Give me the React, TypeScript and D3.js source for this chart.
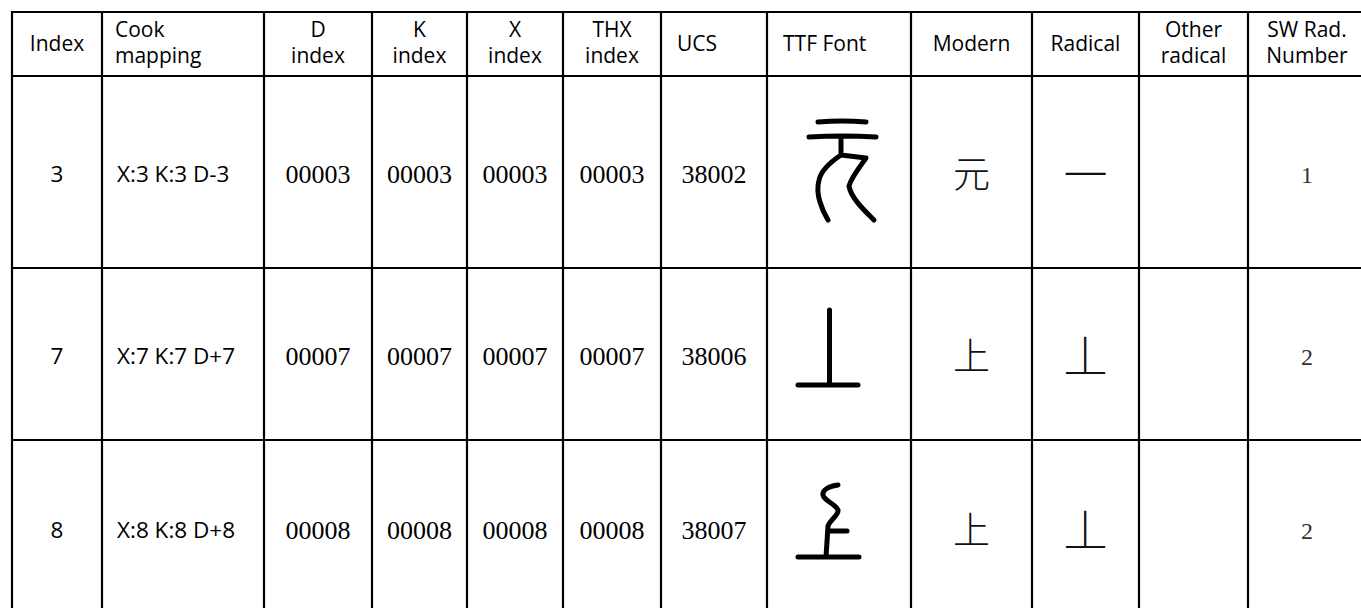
import React from "react";
import * as d3 from "d3";

// table content
const headers = [
  ["Index"],
  ["Cook", "mapping"],
  ["D", "index"],
  ["K", "index"],
  ["X", "index"],
  ["THX", "index"],
  ["UCS"],
  ["TTF Font"],
  ["Modern"],
  ["Radical"],
  ["Other", "radical"],
  ["SW Rad.", "Number"],
];
const indexCol = ["3", "7", "8"];
const cookMapping = ["X:3 K:3 D-3", "X:7 K:7 D+7", "X:8 K:8 D+8"];
const dIndex = ["00003", "00007", "00008"];
const kIndex = ["00003", "00007", "00008"];
const xIndex = ["00003", "00007", "00008"];
const thxIndex = ["00003", "00007", "00008"];
const ucs = ["38002", "38006", "38007"];
const ttfGlyph = ["yuan", "shang", "shangAlt"];
const modern = ["元", "上", "上"];
const radical = ["一", "丄", "丄"];
const otherRadical = ["", "", ""];
const swRadNumber = ["1", "2", "2"];

// layout
const width = 1361;
const height = 608;
const colWidths = [90, 162, 108, 95, 96, 98, 106, 144, 121, 107, 109, 118];
const rowHeights = [64, 192, 172, 176];
const left = 12;
const top = 12;

const colEdges = [left, ...d3.cumsum(colWidths).map((w) => left + w)];
const rowEdges = [top, ...d3.cumsum(rowHeights).map((h) => top + h)];

// seal-script glyph outlines, drawn relative to the cell centre
const sealPaths: Record<string, string> = {
  yuan:
    "M-21,-50 Q3,-52 27,-50 M-30,-35 Q3,-37 37,-35 M2,-32 L2,-17 " +
    "M2,-17 C-10,-9 -18,-1 -20,8 C-22,16 -21,24 -19,30 C-17,37 -14,43 -11,48 " +
    "M2,-17 L27,-14 C20,-4 12,6 10,14 C12,26 25,38 35,48",
  shang: "M-9.5,-44 L-9.5,30 M-41,31 L19,31",
  shangAlt:
    "M-1,-43 C-10,-42 -17,-38 -16,-33 C-15,-27 -3,-24 -1,-18 C0,-13 -9,-8 -11,-2 L-13,29 " +
    "M-11,3 L8,3 M-41,29 L20,29",
};

const sans = "'Open Sans', sans-serif";
const serif = "'Liberation Serif', 'Times New Roman', serif";
const cjk = "'Noto Sans CJK SC', sans-serif";

const columns = [
  { values: indexCol, kind: "sans", align: "middle" },
  { values: cookMapping, kind: "sans", align: "start" },
  { values: dIndex, kind: "serif", align: "middle" },
  { values: kIndex, kind: "serif", align: "middle" },
  { values: xIndex, kind: "serif", align: "middle" },
  { values: thxIndex, kind: "serif", align: "middle" },
  { values: ucs, kind: "serif", align: "middle" },
  { values: ttfGlyph, kind: "seal", align: "middle" },
  { values: modern, kind: "cjk", align: "middle" },
  { values: radical, kind: "radical", align: "middle" },
  { values: otherRadical, kind: "sans", align: "middle" },
  { values: swRadNumber, kind: "small", align: "middle" },
];
const headerAlign = ["middle", "start", "middle", "middle", "middle", "middle", "start", "start", "middle", "middle", "middle", "middle"];

export default function App() {
  const cx = (i: number) => (colEdges[i] + colEdges[i + 1]) / 2;
  const cy = (r: number) => (rowEdges[r] + rowEdges[r + 1]) / 2;

  return (
    <svg
      width={width}
      height={height}
      style={{ position: "absolute", left: 0, top: 0, background: "#fff" }}
    >
      <rect width={width} height={height} fill="#fff" />
      {/* header */}
      {headers.map((lines, i) => {
        const anchor = headerAlign[i];
        const x = anchor === "start" ? colEdges[i] + (i === 1 ? 13 : 16) : cx(i);
        const baselines = lines.length === 1 ? [51] : [37, 63];
        return lines.map((t, j) => (
          <text
            key={`h${i}-${j}`}
            x={x}
            y={baselines[j]}
            textAnchor={anchor}
            fontFamily={sans}
            fontSize={21}
            fill="#000"
          >
            {t}
          </text>
        ));
      })}
      {/* body */}
      {columns.map((col, i) =>
        col.values.map((v, r) => {
          const y = cy(r + 1);
          const x = col.align === "start" ? colEdges[i] + 15 : cx(i);
          const key = `c${i}-${r}`;
          if (!v) return null;
          if (col.kind === "seal") {
            return (
              <path
                key={key}
                d={sealPaths[v]}
                transform={`translate(${cx(i)},${y})`}
                fill="none"
                stroke="#000"
                strokeWidth={5}
                strokeLinecap="round"
                strokeLinejoin="round"
              />
            );
          }
          if (col.kind === "cjk" || col.kind === "radical") {
            return (
              <text
                key={key}
                x={x}
                y={y}
                textAnchor="middle"
                dominantBaseline="central"
                fontFamily={cjk}
                fontWeight={300}
                fontSize={col.kind === "cjk" ? 37 : 44}
                fill="#111"
              >
                {v}
              </text>
            );
          }
          if (col.kind === "serif") {
            return (
              <text key={key} x={x} y={y + 11} textAnchor="middle" fontFamily={serif} fontSize={26} fill="#000">
                {v}
              </text>
            );
          }
          if (col.kind === "small") {
            return (
              <text key={key} x={x} y={y + 10.5} textAnchor="middle" fontFamily={serif} fontSize={24} fill="#333">
                {v}
              </text>
            );
          }
          return (
            <text key={key} x={x} y={y + 10} textAnchor={col.align} fontFamily={sans} fontSize={22.5} fill="#000">
              {v}
            </text>
          );
        })
      )}
      {/* grid lines */}
      {rowEdges.map((y, i) => (
        <line key={`hl${i}`} x1={left - 1} x2={colEdges[colEdges.length - 1]} y1={y} y2={y} stroke="#000" strokeWidth={2.2} />
      ))}
      {colEdges.map((x, i) => (
        <line key={`vl${i}`} x1={x} x2={x} y1={top - 1} y2={rowEdges[rowEdges.length - 1]} stroke="#000" strokeWidth={2.2} />
      ))}
    </svg>
  );
}
